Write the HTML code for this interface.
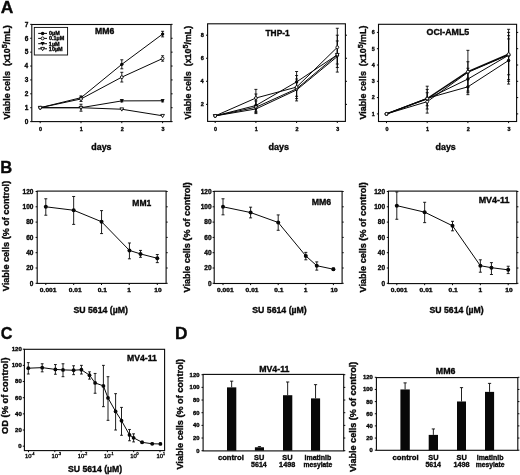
<!DOCTYPE html>
<html><head><meta charset="utf-8"><style>
html,body{margin:0;padding:0;background:#fff;width:520px;height:475px;overflow:hidden;}
svg{display:block;will-change:transform;filter:blur(0.3px);}
text{font-family:"Liberation Sans",sans-serif;fill:#080808;stroke:#080808;stroke-width:0.35px;}
</style></head><body>
<svg width="520" height="475" viewBox="0 0 520 475">
<rect width="520" height="475" fill="#fff"/>
<text x="0.86" y="13.00" font-size="16.8" font-weight="bold" textLength="12.59" lengthAdjust="spacingAndGlyphs">A</text>
<text x="0.19" y="173.10" font-size="16.8" font-weight="bold" textLength="11.96" lengthAdjust="spacingAndGlyphs">B</text>
<text x="0.64" y="339.20" font-size="16.8" font-weight="bold" textLength="11.70" lengthAdjust="spacingAndGlyphs">C</text>
<text x="175.14" y="339.20" font-size="16.8" font-weight="bold" textLength="12.49" lengthAdjust="spacingAndGlyphs">D</text>
<rect x="31.80" y="24.50" width="139.20" height="97.10" fill="none" stroke="#080808" stroke-width="1.1"/>
<line x1="30.20" y1="121.60" x2="31.80" y2="121.60" stroke="#080808" stroke-width="1.0"/>
<line x1="171.00" y1="121.60" x2="172.60" y2="121.60" stroke="#080808" stroke-width="1.0"/>
<text x="24.75" y="123.88" font-size="6.5" font-weight="bold" textLength="3.62" lengthAdjust="spacingAndGlyphs">0</text>
<line x1="30.20" y1="107.71" x2="31.80" y2="107.71" stroke="#080808" stroke-width="1.0"/>
<line x1="171.00" y1="107.71" x2="172.60" y2="107.71" stroke="#080808" stroke-width="1.0"/>
<text x="24.67" y="109.98" font-size="6.5" font-weight="bold" textLength="3.62" lengthAdjust="spacingAndGlyphs">1</text>
<line x1="30.20" y1="93.82" x2="31.80" y2="93.82" stroke="#080808" stroke-width="1.0"/>
<line x1="171.00" y1="93.82" x2="172.60" y2="93.82" stroke="#080808" stroke-width="1.0"/>
<text x="24.75" y="96.09" font-size="6.5" font-weight="bold" textLength="3.62" lengthAdjust="spacingAndGlyphs">2</text>
<line x1="30.20" y1="79.93" x2="31.80" y2="79.93" stroke="#080808" stroke-width="1.0"/>
<line x1="171.00" y1="79.93" x2="172.60" y2="79.93" stroke="#080808" stroke-width="1.0"/>
<text x="24.72" y="82.20" font-size="6.5" font-weight="bold" textLength="3.62" lengthAdjust="spacingAndGlyphs">3</text>
<line x1="30.20" y1="66.04" x2="31.80" y2="66.04" stroke="#080808" stroke-width="1.0"/>
<line x1="171.00" y1="66.04" x2="172.60" y2="66.04" stroke="#080808" stroke-width="1.0"/>
<text x="24.52" y="68.31" font-size="6.5" font-weight="bold" textLength="3.62" lengthAdjust="spacingAndGlyphs">4</text>
<line x1="30.20" y1="52.15" x2="31.80" y2="52.15" stroke="#080808" stroke-width="1.0"/>
<line x1="171.00" y1="52.15" x2="172.60" y2="52.15" stroke="#080808" stroke-width="1.0"/>
<text x="24.67" y="54.42" font-size="6.5" font-weight="bold" textLength="3.62" lengthAdjust="spacingAndGlyphs">5</text>
<line x1="30.20" y1="38.26" x2="31.80" y2="38.26" stroke="#080808" stroke-width="1.0"/>
<line x1="171.00" y1="38.26" x2="172.60" y2="38.26" stroke="#080808" stroke-width="1.0"/>
<text x="24.72" y="40.53" font-size="6.5" font-weight="bold" textLength="3.62" lengthAdjust="spacingAndGlyphs">6</text>
<line x1="30.20" y1="24.37" x2="31.80" y2="24.37" stroke="#080808" stroke-width="1.0"/>
<line x1="171.00" y1="24.37" x2="172.60" y2="24.37" stroke="#080808" stroke-width="1.0"/>
<text x="24.77" y="26.64" font-size="6.5" font-weight="bold" textLength="3.62" lengthAdjust="spacingAndGlyphs">7</text>
<line x1="40.20" y1="121.60" x2="40.20" y2="123.20" stroke="#080808" stroke-width="1.0"/>
<text x="39.10" y="130.50" font-size="5.4" font-weight="bold" textLength="3.00" lengthAdjust="spacingAndGlyphs">0</text>
<line x1="81.00" y1="121.60" x2="81.00" y2="123.20" stroke="#080808" stroke-width="1.0"/>
<text x="79.80" y="130.50" font-size="5.4" font-weight="bold" textLength="3.00" lengthAdjust="spacingAndGlyphs">1</text>
<line x1="121.80" y1="121.60" x2="121.80" y2="123.20" stroke="#080808" stroke-width="1.0"/>
<text x="120.71" y="130.50" font-size="5.4" font-weight="bold" textLength="3.00" lengthAdjust="spacingAndGlyphs">2</text>
<line x1="162.60" y1="121.60" x2="162.60" y2="123.20" stroke="#080808" stroke-width="1.0"/>
<text x="161.53" y="130.50" font-size="5.4" font-weight="bold" textLength="3.00" lengthAdjust="spacingAndGlyphs">3</text>
<text transform="translate(9.60 0) rotate(-90)" x="-119.56" y="0" font-size="9.40" font-weight="bold" textLength="71.37" lengthAdjust="spacingAndGlyphs">Viable cells  (x10</text>
<text transform="translate(6.70 0) rotate(-90)" x="-48.19" y="0" font-size="7.52" font-weight="bold" textLength="3.98" lengthAdjust="spacingAndGlyphs">5</text>
<text transform="translate(9.60 0) rotate(-90)" x="-44.22" y="0" font-size="9.40" font-weight="bold" textLength="18.86" lengthAdjust="spacingAndGlyphs">/mL)</text>
<text x="91.34" y="149.50" font-size="8.8" font-weight="bold" textLength="20.23" lengthAdjust="spacingAndGlyphs">days</text>
<text x="95.02" y="34.40" font-size="8.7" font-weight="bold" textLength="19.30" lengthAdjust="spacingAndGlyphs">MM6</text>
<line x1="81.00" y1="104.24" x2="81.00" y2="111.18" stroke="#080808" stroke-width="0.9"/>
<line x1="79.50" y1="104.24" x2="82.50" y2="104.24" stroke="#080808" stroke-width="0.9"/>
<line x1="79.50" y1="111.18" x2="82.50" y2="111.18" stroke="#080808" stroke-width="0.9"/>
<line x1="81.00" y1="95.90" x2="81.00" y2="101.46" stroke="#080808" stroke-width="0.9"/>
<line x1="79.50" y1="95.90" x2="82.50" y2="95.90" stroke="#080808" stroke-width="0.9"/>
<line x1="79.50" y1="101.46" x2="82.50" y2="101.46" stroke="#080808" stroke-width="0.9"/>
<line x1="121.80" y1="59.79" x2="121.80" y2="68.82" stroke="#080808" stroke-width="0.9"/>
<line x1="120.30" y1="59.79" x2="123.30" y2="59.79" stroke="#080808" stroke-width="0.9"/>
<line x1="120.30" y1="68.82" x2="123.30" y2="68.82" stroke="#080808" stroke-width="0.9"/>
<line x1="121.80" y1="72.29" x2="121.80" y2="82.01" stroke="#080808" stroke-width="0.9"/>
<line x1="120.30" y1="72.29" x2="123.30" y2="72.29" stroke="#080808" stroke-width="0.9"/>
<line x1="120.30" y1="82.01" x2="123.30" y2="82.01" stroke="#080808" stroke-width="0.9"/>
<line x1="162.60" y1="31.31" x2="162.60" y2="36.87" stroke="#080808" stroke-width="0.9"/>
<line x1="161.10" y1="31.31" x2="164.10" y2="31.31" stroke="#080808" stroke-width="0.9"/>
<line x1="161.10" y1="36.87" x2="164.10" y2="36.87" stroke="#080808" stroke-width="0.9"/>
<line x1="162.60" y1="55.76" x2="162.60" y2="61.18" stroke="#080808" stroke-width="0.9"/>
<line x1="161.10" y1="55.76" x2="164.10" y2="55.76" stroke="#080808" stroke-width="0.9"/>
<line x1="161.10" y1="61.18" x2="164.10" y2="61.18" stroke="#080808" stroke-width="0.9"/>
<line x1="121.80" y1="99.65" x2="121.80" y2="101.88" stroke="#080808" stroke-width="0.9"/>
<line x1="120.30" y1="99.65" x2="123.30" y2="99.65" stroke="#080808" stroke-width="0.9"/>
<line x1="120.30" y1="101.88" x2="123.30" y2="101.88" stroke="#080808" stroke-width="0.9"/>
<line x1="162.60" y1="99.65" x2="162.60" y2="101.88" stroke="#080808" stroke-width="0.9"/>
<line x1="161.10" y1="99.65" x2="164.10" y2="99.65" stroke="#080808" stroke-width="0.9"/>
<line x1="161.10" y1="101.88" x2="164.10" y2="101.88" stroke="#080808" stroke-width="0.9"/>
<polyline points="40.20,107.71 81.00,97.71 121.80,64.37 162.60,34.09" fill="none" stroke="#080808" stroke-width="1.0" stroke-linejoin="round"/>
<polyline points="40.20,107.71 81.00,107.71 121.80,100.90 162.60,100.76" fill="none" stroke="#080808" stroke-width="1.0" stroke-linejoin="round"/>
<polyline points="40.20,107.71 81.00,107.71 121.80,109.24 162.60,115.77" fill="none" stroke="#080808" stroke-width="1.0" stroke-linejoin="round"/>
<polyline points="40.20,107.71 81.00,98.96 121.80,77.15 162.60,58.54" fill="none" stroke="#080808" stroke-width="1.0" stroke-linejoin="round"/>
<circle cx="40.20" cy="107.71" r="1.7" fill="#080808"/>
<circle cx="81.00" cy="97.71" r="1.7" fill="#080808"/>
<circle cx="121.80" cy="64.37" r="1.7" fill="#080808"/>
<circle cx="162.60" cy="34.09" r="1.7" fill="#080808"/>
<path d="M38.16,106.18 L42.24,106.18 L40.20,109.75 Z" fill="#080808"/>
<path d="M78.96,106.18 L83.04,106.18 L81.00,109.75 Z" fill="#080808"/>
<path d="M119.76,99.37 L123.84,99.37 L121.80,102.94 Z" fill="#080808"/>
<path d="M160.56,99.23 L164.64,99.23 L162.60,102.80 Z" fill="#080808"/>
<path d="M38.33,106.35 L42.07,106.35 L40.20,109.58 Z" fill="#fff" stroke="#080808" stroke-width="0.9"/>
<path d="M79.13,106.35 L82.87,106.35 L81.00,109.58 Z" fill="#fff" stroke="#080808" stroke-width="0.9"/>
<path d="M119.93,107.88 L123.67,107.88 L121.80,111.11 Z" fill="#fff" stroke="#080808" stroke-width="0.9"/>
<path d="M160.73,114.41 L164.47,114.41 L162.60,117.64 Z" fill="#fff" stroke="#080808" stroke-width="0.9"/>
<circle cx="40.20" cy="107.71" r="1.44" fill="#fff" stroke="#080808" stroke-width="0.9"/>
<circle cx="81.00" cy="98.96" r="1.44" fill="#fff" stroke="#080808" stroke-width="0.9"/>
<circle cx="121.80" cy="77.15" r="1.44" fill="#fff" stroke="#080808" stroke-width="0.9"/>
<circle cx="162.60" cy="58.54" r="1.44" fill="#fff" stroke="#080808" stroke-width="0.9"/>
<rect x="34.30" y="27.40" width="33.30" height="27.60" fill="none" stroke="#080808" stroke-width="0.9"/>
<line x1="38.20" y1="33.40" x2="47.00" y2="33.40" stroke="#080808" stroke-width="1.0"/>
<circle cx="42.60" cy="33.40" r="1.75" fill="#080808"/>
<text x="48.98" y="35.30" font-size="5.2" font-weight="bold" textLength="10.73" lengthAdjust="spacingAndGlyphs">0µM</text>
<line x1="38.20" y1="38.40" x2="47.00" y2="38.40" stroke="#080808" stroke-width="1.0"/>
<circle cx="42.60" cy="38.40" r="1.49" fill="#fff" stroke="#080808" stroke-width="0.9"/>
<text x="48.98" y="40.30" font-size="5.2" font-weight="bold" textLength="15.28" lengthAdjust="spacingAndGlyphs">0.1µM</text>
<line x1="38.20" y1="43.70" x2="47.00" y2="43.70" stroke="#080808" stroke-width="1.0"/>
<path d="M40.50,42.12 L44.70,42.12 L42.60,45.80 Z" fill="#080808"/>
<text x="48.86" y="45.60" font-size="5.2" font-weight="bold" textLength="10.73" lengthAdjust="spacingAndGlyphs">1µM</text>
<line x1="38.20" y1="48.80" x2="47.00" y2="48.80" stroke="#080808" stroke-width="1.0"/>
<path d="M40.68,47.40 L44.52,47.40 L42.60,50.72 Z" fill="#fff" stroke="#080808" stroke-width="0.9"/>
<text x="48.86" y="50.70" font-size="5.2" font-weight="bold" textLength="13.77" lengthAdjust="spacingAndGlyphs">10µM</text>
<rect x="207.60" y="23.80" width="137.80" height="97.60" fill="none" stroke="#080808" stroke-width="1.1"/>
<line x1="206.00" y1="104.37" x2="207.60" y2="104.37" stroke="#080808" stroke-width="1.0"/>
<line x1="345.40" y1="104.37" x2="347.00" y2="104.37" stroke="#080808" stroke-width="1.0"/>
<text x="200.71" y="106.33" font-size="5.6" font-weight="bold" textLength="3.11" lengthAdjust="spacingAndGlyphs">2</text>
<line x1="206.00" y1="81.31" x2="207.60" y2="81.31" stroke="#080808" stroke-width="1.0"/>
<line x1="345.40" y1="81.31" x2="347.00" y2="81.31" stroke="#080808" stroke-width="1.0"/>
<text x="200.51" y="83.27" font-size="5.6" font-weight="bold" textLength="3.11" lengthAdjust="spacingAndGlyphs">4</text>
<line x1="206.00" y1="58.25" x2="207.60" y2="58.25" stroke="#080808" stroke-width="1.0"/>
<line x1="345.40" y1="58.25" x2="347.00" y2="58.25" stroke="#080808" stroke-width="1.0"/>
<text x="200.69" y="60.21" font-size="5.6" font-weight="bold" textLength="3.11" lengthAdjust="spacingAndGlyphs">6</text>
<line x1="206.00" y1="35.19" x2="207.60" y2="35.19" stroke="#080808" stroke-width="1.0"/>
<line x1="345.40" y1="35.19" x2="347.00" y2="35.19" stroke="#080808" stroke-width="1.0"/>
<text x="200.66" y="37.15" font-size="5.6" font-weight="bold" textLength="3.11" lengthAdjust="spacingAndGlyphs">8</text>
<line x1="215.20" y1="121.40" x2="215.20" y2="123.00" stroke="#080808" stroke-width="1.0"/>
<text x="214.10" y="130.50" font-size="5.4" font-weight="bold" textLength="3.00" lengthAdjust="spacingAndGlyphs">0</text>
<line x1="255.90" y1="121.40" x2="255.90" y2="123.00" stroke="#080808" stroke-width="1.0"/>
<text x="254.70" y="130.50" font-size="5.4" font-weight="bold" textLength="3.00" lengthAdjust="spacingAndGlyphs">1</text>
<line x1="296.60" y1="121.40" x2="296.60" y2="123.00" stroke="#080808" stroke-width="1.0"/>
<text x="295.51" y="130.50" font-size="5.4" font-weight="bold" textLength="3.00" lengthAdjust="spacingAndGlyphs">2</text>
<line x1="337.30" y1="121.40" x2="337.30" y2="123.00" stroke="#080808" stroke-width="1.0"/>
<text x="336.23" y="130.50" font-size="5.4" font-weight="bold" textLength="3.00" lengthAdjust="spacingAndGlyphs">3</text>
<text transform="translate(191.00 0) rotate(-90)" x="-119.56" y="0" font-size="9.40" font-weight="bold" textLength="71.07" lengthAdjust="spacingAndGlyphs">Viable cells  (x10</text>
<text transform="translate(188.10 0) rotate(-90)" x="-48.50" y="0" font-size="7.52" font-weight="bold" textLength="3.96" lengthAdjust="spacingAndGlyphs">5</text>
<text transform="translate(191.00 0) rotate(-90)" x="-44.54" y="0" font-size="9.40" font-weight="bold" textLength="18.78" lengthAdjust="spacingAndGlyphs">/mL)</text>
<text x="268.53" y="149.50" font-size="8.8" font-weight="bold" textLength="20.54" lengthAdjust="spacingAndGlyphs">days</text>
<text x="265.51" y="35.80" font-size="8.7" font-weight="bold" textLength="24.13" lengthAdjust="spacingAndGlyphs">THP-1</text>
<line x1="255.90" y1="89.38" x2="255.90" y2="113.59" stroke="#080808" stroke-width="0.9"/>
<line x1="254.40" y1="89.38" x2="257.40" y2="89.38" stroke="#080808" stroke-width="0.9"/>
<line x1="254.40" y1="113.59" x2="257.40" y2="113.59" stroke="#080808" stroke-width="0.9"/>
<line x1="255.90" y1="93.99" x2="255.90" y2="112.44" stroke="#080808" stroke-width="0.9"/>
<line x1="254.40" y1="93.99" x2="257.40" y2="93.99" stroke="#080808" stroke-width="0.9"/>
<line x1="254.40" y1="112.44" x2="257.40" y2="112.44" stroke="#080808" stroke-width="0.9"/>
<line x1="255.90" y1="100.91" x2="255.90" y2="111.29" stroke="#080808" stroke-width="0.9"/>
<line x1="254.40" y1="100.91" x2="257.40" y2="100.91" stroke="#080808" stroke-width="0.9"/>
<line x1="254.40" y1="111.29" x2="257.40" y2="111.29" stroke="#080808" stroke-width="0.9"/>
<line x1="296.60" y1="71.51" x2="296.60" y2="100.91" stroke="#080808" stroke-width="0.9"/>
<line x1="295.10" y1="71.51" x2="298.10" y2="71.51" stroke="#080808" stroke-width="0.9"/>
<line x1="295.10" y1="100.91" x2="298.10" y2="100.91" stroke="#080808" stroke-width="0.9"/>
<line x1="296.60" y1="75.55" x2="296.60" y2="98.61" stroke="#080808" stroke-width="0.9"/>
<line x1="295.10" y1="75.55" x2="298.10" y2="75.55" stroke="#080808" stroke-width="0.9"/>
<line x1="295.10" y1="98.61" x2="298.10" y2="98.61" stroke="#080808" stroke-width="0.9"/>
<line x1="296.60" y1="79.00" x2="296.60" y2="96.30" stroke="#080808" stroke-width="0.9"/>
<line x1="295.10" y1="79.00" x2="298.10" y2="79.00" stroke="#080808" stroke-width="0.9"/>
<line x1="295.10" y1="96.30" x2="298.10" y2="96.30" stroke="#080808" stroke-width="0.9"/>
<line x1="337.30" y1="28.27" x2="337.30" y2="72.09" stroke="#080808" stroke-width="0.9"/>
<line x1="335.80" y1="28.27" x2="338.80" y2="28.27" stroke="#080808" stroke-width="0.9"/>
<line x1="335.80" y1="72.09" x2="338.80" y2="72.09" stroke="#080808" stroke-width="0.9"/>
<line x1="337.30" y1="35.19" x2="337.30" y2="67.47" stroke="#080808" stroke-width="0.9"/>
<line x1="335.80" y1="35.19" x2="338.80" y2="35.19" stroke="#080808" stroke-width="0.9"/>
<line x1="335.80" y1="67.47" x2="338.80" y2="67.47" stroke="#080808" stroke-width="0.9"/>
<line x1="337.30" y1="40.96" x2="337.30" y2="64.02" stroke="#080808" stroke-width="0.9"/>
<line x1="335.80" y1="40.96" x2="338.80" y2="40.96" stroke="#080808" stroke-width="0.9"/>
<line x1="335.80" y1="64.02" x2="338.80" y2="64.02" stroke="#080808" stroke-width="0.9"/>
<polyline points="215.20,115.90 255.90,105.52 296.60,81.89 337.30,54.79" fill="none" stroke="#080808" stroke-width="1.0" stroke-linejoin="round"/>
<polyline points="215.20,115.90 255.90,108.98 296.60,89.96 337.30,56.52" fill="none" stroke="#080808" stroke-width="1.0" stroke-linejoin="round"/>
<polyline points="215.20,115.90 255.90,107.25 296.60,88.80 337.30,54.79" fill="none" stroke="#080808" stroke-width="1.0" stroke-linejoin="round"/>
<polyline points="215.20,115.90 255.90,98.03 296.60,87.08 337.30,47.30" fill="none" stroke="#080808" stroke-width="1.0" stroke-linejoin="round"/>
<circle cx="215.20" cy="115.90" r="1.7" fill="#080808"/>
<circle cx="255.90" cy="105.52" r="1.7" fill="#080808"/>
<circle cx="296.60" cy="81.89" r="1.7" fill="#080808"/>
<circle cx="337.30" cy="54.79" r="1.7" fill="#080808"/>
<path d="M213.16,114.37 L217.24,114.37 L215.20,117.94 Z" fill="#080808"/>
<path d="M253.86,107.45 L257.94,107.45 L255.90,111.02 Z" fill="#080808"/>
<path d="M294.56,88.43 L298.64,88.43 L296.60,92.00 Z" fill="#080808"/>
<path d="M335.26,54.99 L339.34,54.99 L337.30,58.56 Z" fill="#080808"/>
<path d="M213.33,114.54 L217.07,114.54 L215.20,117.77 Z" fill="#fff" stroke="#080808" stroke-width="0.9"/>
<path d="M254.03,105.89 L257.77,105.89 L255.90,109.12 Z" fill="#fff" stroke="#080808" stroke-width="0.9"/>
<path d="M294.73,87.44 L298.47,87.44 L296.60,90.67 Z" fill="#fff" stroke="#080808" stroke-width="0.9"/>
<path d="M335.43,53.43 L339.17,53.43 L337.30,56.66 Z" fill="#fff" stroke="#080808" stroke-width="0.9"/>
<circle cx="215.20" cy="115.90" r="1.44" fill="#fff" stroke="#080808" stroke-width="0.9"/>
<circle cx="255.90" cy="98.03" r="1.44" fill="#fff" stroke="#080808" stroke-width="0.9"/>
<circle cx="296.60" cy="87.08" r="1.44" fill="#fff" stroke="#080808" stroke-width="0.9"/>
<circle cx="337.30" cy="47.30" r="1.44" fill="#fff" stroke="#080808" stroke-width="0.9"/>
<rect x="378.50" y="24.30" width="138.10" height="97.20" fill="none" stroke="#080808" stroke-width="1.1"/>
<line x1="376.90" y1="113.90" x2="378.50" y2="113.90" stroke="#080808" stroke-width="1.0"/>
<line x1="516.60" y1="113.90" x2="518.20" y2="113.90" stroke="#080808" stroke-width="1.0"/>
<text x="371.80" y="115.76" font-size="5.3" font-weight="bold" textLength="2.95" lengthAdjust="spacingAndGlyphs">1</text>
<line x1="376.90" y1="97.60" x2="378.50" y2="97.60" stroke="#080808" stroke-width="1.0"/>
<line x1="516.60" y1="97.60" x2="518.20" y2="97.60" stroke="#080808" stroke-width="1.0"/>
<text x="371.87" y="99.46" font-size="5.3" font-weight="bold" textLength="2.95" lengthAdjust="spacingAndGlyphs">2</text>
<line x1="376.90" y1="81.30" x2="378.50" y2="81.30" stroke="#080808" stroke-width="1.0"/>
<line x1="516.60" y1="81.30" x2="518.20" y2="81.30" stroke="#080808" stroke-width="1.0"/>
<text x="371.84" y="83.16" font-size="5.3" font-weight="bold" textLength="2.95" lengthAdjust="spacingAndGlyphs">3</text>
<line x1="376.90" y1="65.00" x2="378.50" y2="65.00" stroke="#080808" stroke-width="1.0"/>
<line x1="516.60" y1="65.00" x2="518.20" y2="65.00" stroke="#080808" stroke-width="1.0"/>
<text x="371.68" y="66.86" font-size="5.3" font-weight="bold" textLength="2.95" lengthAdjust="spacingAndGlyphs">4</text>
<line x1="376.90" y1="48.70" x2="378.50" y2="48.70" stroke="#080808" stroke-width="1.0"/>
<line x1="516.60" y1="48.70" x2="518.20" y2="48.70" stroke="#080808" stroke-width="1.0"/>
<text x="371.80" y="50.55" font-size="5.3" font-weight="bold" textLength="2.95" lengthAdjust="spacingAndGlyphs">5</text>
<line x1="376.90" y1="32.40" x2="378.50" y2="32.40" stroke="#080808" stroke-width="1.0"/>
<line x1="516.60" y1="32.40" x2="518.20" y2="32.40" stroke="#080808" stroke-width="1.0"/>
<text x="371.84" y="34.26" font-size="5.3" font-weight="bold" textLength="2.95" lengthAdjust="spacingAndGlyphs">6</text>
<line x1="386.50" y1="121.50" x2="386.50" y2="123.10" stroke="#080808" stroke-width="1.0"/>
<text x="385.40" y="130.50" font-size="5.4" font-weight="bold" textLength="3.00" lengthAdjust="spacingAndGlyphs">0</text>
<line x1="427.20" y1="121.50" x2="427.20" y2="123.10" stroke="#080808" stroke-width="1.0"/>
<text x="426.00" y="130.50" font-size="5.4" font-weight="bold" textLength="3.00" lengthAdjust="spacingAndGlyphs">1</text>
<line x1="467.90" y1="121.50" x2="467.90" y2="123.10" stroke="#080808" stroke-width="1.0"/>
<text x="466.81" y="130.50" font-size="5.4" font-weight="bold" textLength="3.00" lengthAdjust="spacingAndGlyphs">2</text>
<line x1="508.60" y1="121.50" x2="508.60" y2="123.10" stroke="#080808" stroke-width="1.0"/>
<text x="507.53" y="130.50" font-size="5.4" font-weight="bold" textLength="3.00" lengthAdjust="spacingAndGlyphs">3</text>
<text transform="translate(365.80 0) rotate(-90)" x="-119.56" y="0" font-size="9.40" font-weight="bold" textLength="71.22" lengthAdjust="spacingAndGlyphs">Viable cells  (x10</text>
<text transform="translate(362.90 0) rotate(-90)" x="-48.34" y="0" font-size="7.52" font-weight="bold" textLength="3.97" lengthAdjust="spacingAndGlyphs">5</text>
<text transform="translate(365.80 0) rotate(-90)" x="-44.38" y="0" font-size="9.40" font-weight="bold" textLength="18.82" lengthAdjust="spacingAndGlyphs">/mL)</text>
<text x="435.54" y="149.50" font-size="8.8" font-weight="bold" textLength="20.23" lengthAdjust="spacingAndGlyphs">days</text>
<text x="426.64" y="34.70" font-size="8.7" font-weight="bold" textLength="42.61" lengthAdjust="spacingAndGlyphs">OCI-AML5</text>
<line x1="427.20" y1="86.19" x2="427.20" y2="113.09" stroke="#080808" stroke-width="0.9"/>
<line x1="425.70" y1="86.19" x2="428.70" y2="86.19" stroke="#080808" stroke-width="0.9"/>
<line x1="425.70" y1="113.09" x2="428.70" y2="113.09" stroke="#080808" stroke-width="0.9"/>
<line x1="427.20" y1="89.45" x2="427.20" y2="109.01" stroke="#080808" stroke-width="0.9"/>
<line x1="425.70" y1="89.45" x2="428.70" y2="89.45" stroke="#080808" stroke-width="0.9"/>
<line x1="425.70" y1="109.01" x2="428.70" y2="109.01" stroke="#080808" stroke-width="0.9"/>
<line x1="427.20" y1="92.71" x2="427.20" y2="105.75" stroke="#080808" stroke-width="0.9"/>
<line x1="425.70" y1="92.71" x2="428.70" y2="92.71" stroke="#080808" stroke-width="0.9"/>
<line x1="425.70" y1="105.75" x2="428.70" y2="105.75" stroke="#080808" stroke-width="0.9"/>
<line x1="467.90" y1="50.33" x2="467.90" y2="94.67" stroke="#080808" stroke-width="0.9"/>
<line x1="466.40" y1="50.33" x2="469.40" y2="50.33" stroke="#080808" stroke-width="0.9"/>
<line x1="466.40" y1="94.67" x2="469.40" y2="94.67" stroke="#080808" stroke-width="0.9"/>
<line x1="467.90" y1="61.74" x2="467.90" y2="91.08" stroke="#080808" stroke-width="0.9"/>
<line x1="466.40" y1="61.74" x2="469.40" y2="61.74" stroke="#080808" stroke-width="0.9"/>
<line x1="466.40" y1="91.08" x2="469.40" y2="91.08" stroke="#080808" stroke-width="0.9"/>
<line x1="467.90" y1="68.26" x2="467.90" y2="92.71" stroke="#080808" stroke-width="0.9"/>
<line x1="466.40" y1="68.26" x2="469.40" y2="68.26" stroke="#080808" stroke-width="0.9"/>
<line x1="466.40" y1="92.71" x2="469.40" y2="92.71" stroke="#080808" stroke-width="0.9"/>
<line x1="508.60" y1="29.30" x2="508.60" y2="84.07" stroke="#080808" stroke-width="0.9"/>
<line x1="507.10" y1="29.30" x2="510.10" y2="29.30" stroke="#080808" stroke-width="0.9"/>
<line x1="507.10" y1="84.07" x2="510.10" y2="84.07" stroke="#080808" stroke-width="0.9"/>
<line x1="508.60" y1="32.40" x2="508.60" y2="79.67" stroke="#080808" stroke-width="0.9"/>
<line x1="507.10" y1="32.40" x2="510.10" y2="32.40" stroke="#080808" stroke-width="0.9"/>
<line x1="507.10" y1="79.67" x2="510.10" y2="79.67" stroke="#080808" stroke-width="0.9"/>
<line x1="508.60" y1="35.66" x2="508.60" y2="74.78" stroke="#080808" stroke-width="0.9"/>
<line x1="507.10" y1="35.66" x2="510.10" y2="35.66" stroke="#080808" stroke-width="0.9"/>
<line x1="507.10" y1="74.78" x2="510.10" y2="74.78" stroke="#080808" stroke-width="0.9"/>
<line x1="508.60" y1="38.92" x2="508.60" y2="81.30" stroke="#080808" stroke-width="0.9"/>
<line x1="507.10" y1="38.92" x2="510.10" y2="38.92" stroke="#080808" stroke-width="0.9"/>
<line x1="507.10" y1="81.30" x2="510.10" y2="81.30" stroke="#080808" stroke-width="0.9"/>
<polyline points="386.50,113.90 427.20,98.90 467.90,79.02 508.60,55.22" fill="none" stroke="#080808" stroke-width="1.0" stroke-linejoin="round"/>
<polyline points="386.50,113.90 427.20,98.25 467.90,86.84 508.60,60.44" fill="none" stroke="#080808" stroke-width="1.0" stroke-linejoin="round"/>
<polyline points="386.50,113.90 427.20,101.68 467.90,72.34 508.60,54.89" fill="none" stroke="#080808" stroke-width="1.0" stroke-linejoin="round"/>
<polyline points="386.50,113.90 427.20,98.58 467.90,71.68 508.60,54.24" fill="none" stroke="#080808" stroke-width="1.4" stroke-linejoin="round"/>
<circle cx="386.50" cy="113.90" r="1.7" fill="#080808"/>
<circle cx="427.20" cy="98.90" r="1.7" fill="#080808"/>
<circle cx="467.90" cy="79.02" r="1.7" fill="#080808"/>
<circle cx="508.60" cy="55.22" r="1.7" fill="#080808"/>
<circle cx="386.50" cy="113.90" r="1.7" fill="#080808"/>
<circle cx="427.20" cy="98.25" r="1.7" fill="#080808"/>
<circle cx="467.90" cy="86.84" r="1.7" fill="#080808"/>
<circle cx="508.60" cy="60.44" r="1.7" fill="#080808"/>
<circle cx="386.50" cy="113.90" r="1.44" fill="#fff" stroke="#080808" stroke-width="0.9"/>
<circle cx="427.20" cy="101.68" r="1.44" fill="#fff" stroke="#080808" stroke-width="0.9"/>
<circle cx="467.90" cy="72.34" r="1.44" fill="#fff" stroke="#080808" stroke-width="0.9"/>
<circle cx="508.60" cy="54.89" r="1.44" fill="#fff" stroke="#080808" stroke-width="0.9"/>
<circle cx="386.50" cy="113.90" r="1.44" fill="#fff" stroke="#080808" stroke-width="0.9"/>
<circle cx="427.20" cy="98.58" r="1.44" fill="#fff" stroke="#080808" stroke-width="0.9"/>
<circle cx="467.90" cy="71.68" r="1.44" fill="#fff" stroke="#080808" stroke-width="0.9"/>
<circle cx="508.60" cy="54.24" r="1.44" fill="#fff" stroke="#080808" stroke-width="0.9"/>
<rect x="37.20" y="191.10" width="128.90" height="92.30" fill="none" stroke="#080808" stroke-width="1.1"/>
<line x1="35.60" y1="283.30" x2="37.20" y2="283.30" stroke="#080808" stroke-width="1.0"/>
<line x1="166.10" y1="283.30" x2="167.70" y2="283.30" stroke="#080808" stroke-width="1.0"/>
<text x="29.85" y="285.60" font-size="6.5" font-weight="bold" textLength="3.62" lengthAdjust="spacingAndGlyphs">0</text>
<line x1="35.60" y1="268.00" x2="37.20" y2="268.00" stroke="#080808" stroke-width="1.0"/>
<line x1="166.10" y1="268.00" x2="167.70" y2="268.00" stroke="#080808" stroke-width="1.0"/>
<text x="26.24" y="270.30" font-size="6.5" font-weight="bold" textLength="7.23" lengthAdjust="spacingAndGlyphs">20</text>
<line x1="35.60" y1="252.70" x2="37.20" y2="252.70" stroke="#080808" stroke-width="1.0"/>
<line x1="166.10" y1="252.70" x2="167.70" y2="252.70" stroke="#080808" stroke-width="1.0"/>
<text x="26.24" y="255.00" font-size="6.5" font-weight="bold" textLength="7.23" lengthAdjust="spacingAndGlyphs">40</text>
<line x1="35.60" y1="237.40" x2="37.20" y2="237.40" stroke="#080808" stroke-width="1.0"/>
<line x1="166.10" y1="237.40" x2="167.70" y2="237.40" stroke="#080808" stroke-width="1.0"/>
<text x="26.24" y="239.70" font-size="6.5" font-weight="bold" textLength="7.23" lengthAdjust="spacingAndGlyphs">60</text>
<line x1="35.60" y1="222.10" x2="37.20" y2="222.10" stroke="#080808" stroke-width="1.0"/>
<line x1="166.10" y1="222.10" x2="167.70" y2="222.10" stroke="#080808" stroke-width="1.0"/>
<text x="26.24" y="224.40" font-size="6.5" font-weight="bold" textLength="7.23" lengthAdjust="spacingAndGlyphs">80</text>
<line x1="35.60" y1="206.80" x2="37.20" y2="206.80" stroke="#080808" stroke-width="1.0"/>
<line x1="166.10" y1="206.80" x2="167.70" y2="206.80" stroke="#080808" stroke-width="1.0"/>
<text x="22.62" y="209.10" font-size="6.5" font-weight="bold" textLength="10.85" lengthAdjust="spacingAndGlyphs">100</text>
<line x1="35.60" y1="191.50" x2="37.20" y2="191.50" stroke="#080808" stroke-width="1.0"/>
<line x1="166.10" y1="191.50" x2="167.70" y2="191.50" stroke="#080808" stroke-width="1.0"/>
<text x="22.62" y="193.80" font-size="6.5" font-weight="bold" textLength="10.85" lengthAdjust="spacingAndGlyphs">120</text>
<line x1="45.80" y1="283.40" x2="45.80" y2="285.00" stroke="#080808" stroke-width="1.0"/>
<text x="39.89" y="292.40" font-size="5.6" font-weight="bold" textLength="16.54" lengthAdjust="spacingAndGlyphs">0.001</text>
<line x1="73.70" y1="283.40" x2="73.70" y2="285.00" stroke="#080808" stroke-width="1.0"/>
<text x="68.73" y="292.40" font-size="5.6" font-weight="bold" textLength="12.86" lengthAdjust="spacingAndGlyphs">0.01</text>
<line x1="101.50" y1="283.40" x2="101.50" y2="285.00" stroke="#080808" stroke-width="1.0"/>
<text x="97.67" y="292.40" font-size="5.6" font-weight="bold" textLength="9.19" lengthAdjust="spacingAndGlyphs">0.1</text>
<line x1="129.20" y1="283.40" x2="129.20" y2="285.00" stroke="#080808" stroke-width="1.0"/>
<text x="127.35" y="292.40" font-size="5.6" font-weight="bold" textLength="3.68" lengthAdjust="spacingAndGlyphs">1</text>
<line x1="157.30" y1="283.40" x2="157.30" y2="285.00" stroke="#080808" stroke-width="1.0"/>
<text x="154.35" y="292.40" font-size="5.6" font-weight="bold" textLength="7.35" lengthAdjust="spacingAndGlyphs">10</text>
<text transform="translate(9.20 0) rotate(-90)" x="-291.16" y="0" font-size="8.8" font-weight="bold" textLength="110.32" lengthAdjust="spacingAndGlyphs">Viable cells (% of control)</text>
<text x="73.45" y="313.00" font-size="8.8" font-weight="bold" textLength="54.49" lengthAdjust="spacingAndGlyphs">SU 5614 (µM)</text>
<text x="132.33" y="206.20" font-size="8.7" font-weight="bold" textLength="18.91" lengthAdjust="spacingAndGlyphs">MM1</text>
<line x1="45.80" y1="198.77" x2="45.80" y2="215.22" stroke="#080808" stroke-width="0.9"/>
<line x1="44.30" y1="198.77" x2="47.30" y2="198.77" stroke="#080808" stroke-width="0.9"/>
<line x1="44.30" y1="215.22" x2="47.30" y2="215.22" stroke="#080808" stroke-width="0.9"/>
<line x1="73.67" y1="196.47" x2="73.67" y2="224.40" stroke="#080808" stroke-width="0.9"/>
<line x1="72.17" y1="196.47" x2="75.17" y2="196.47" stroke="#080808" stroke-width="0.9"/>
<line x1="72.17" y1="224.40" x2="75.17" y2="224.40" stroke="#080808" stroke-width="0.9"/>
<line x1="101.55" y1="210.62" x2="101.55" y2="233.58" stroke="#080808" stroke-width="0.9"/>
<line x1="100.05" y1="210.62" x2="103.05" y2="210.62" stroke="#080808" stroke-width="0.9"/>
<line x1="100.05" y1="233.58" x2="103.05" y2="233.58" stroke="#080808" stroke-width="0.9"/>
<line x1="129.43" y1="242.98" x2="129.43" y2="258.82" stroke="#080808" stroke-width="0.9"/>
<line x1="127.93" y1="242.98" x2="130.93" y2="242.98" stroke="#080808" stroke-width="0.9"/>
<line x1="127.93" y1="258.82" x2="130.93" y2="258.82" stroke="#080808" stroke-width="0.9"/>
<line x1="140.52" y1="250.41" x2="140.52" y2="257.29" stroke="#080808" stroke-width="0.9"/>
<line x1="139.02" y1="250.41" x2="142.02" y2="250.41" stroke="#080808" stroke-width="0.9"/>
<line x1="139.02" y1="257.29" x2="142.02" y2="257.29" stroke="#080808" stroke-width="0.9"/>
<line x1="157.30" y1="254.54" x2="157.30" y2="262.64" stroke="#080808" stroke-width="0.9"/>
<line x1="155.80" y1="254.54" x2="158.80" y2="254.54" stroke="#080808" stroke-width="0.9"/>
<line x1="155.80" y1="262.64" x2="158.80" y2="262.64" stroke="#080808" stroke-width="0.9"/>
<polyline points="45.80,206.80 73.67,210.24 101.55,221.72 129.43,250.41 140.52,253.92 157.30,258.28" fill="none" stroke="#080808" stroke-width="1.0" stroke-linejoin="round"/>
<circle cx="45.80" cy="206.80" r="2.0" fill="#080808"/>
<circle cx="73.67" cy="210.24" r="2.0" fill="#080808"/>
<circle cx="101.55" cy="221.72" r="2.0" fill="#080808"/>
<circle cx="129.43" cy="250.41" r="2.0" fill="#080808"/>
<circle cx="140.52" cy="253.92" r="2.0" fill="#080808"/>
<circle cx="157.30" cy="258.28" r="2.0" fill="#080808"/>
<rect x="214.20" y="191.30" width="127.90" height="92.20" fill="none" stroke="#080808" stroke-width="1.1"/>
<line x1="212.60" y1="283.30" x2="214.20" y2="283.30" stroke="#080808" stroke-width="1.0"/>
<line x1="342.10" y1="283.30" x2="343.70" y2="283.30" stroke="#080808" stroke-width="1.0"/>
<text x="207.95" y="285.60" font-size="6.5" font-weight="bold" textLength="3.62" lengthAdjust="spacingAndGlyphs">0</text>
<line x1="212.60" y1="268.00" x2="214.20" y2="268.00" stroke="#080808" stroke-width="1.0"/>
<line x1="342.10" y1="268.00" x2="343.70" y2="268.00" stroke="#080808" stroke-width="1.0"/>
<text x="204.34" y="270.30" font-size="6.5" font-weight="bold" textLength="7.23" lengthAdjust="spacingAndGlyphs">20</text>
<line x1="212.60" y1="252.70" x2="214.20" y2="252.70" stroke="#080808" stroke-width="1.0"/>
<line x1="342.10" y1="252.70" x2="343.70" y2="252.70" stroke="#080808" stroke-width="1.0"/>
<text x="204.34" y="255.00" font-size="6.5" font-weight="bold" textLength="7.23" lengthAdjust="spacingAndGlyphs">40</text>
<line x1="212.60" y1="237.40" x2="214.20" y2="237.40" stroke="#080808" stroke-width="1.0"/>
<line x1="342.10" y1="237.40" x2="343.70" y2="237.40" stroke="#080808" stroke-width="1.0"/>
<text x="204.34" y="239.70" font-size="6.5" font-weight="bold" textLength="7.23" lengthAdjust="spacingAndGlyphs">60</text>
<line x1="212.60" y1="222.10" x2="214.20" y2="222.10" stroke="#080808" stroke-width="1.0"/>
<line x1="342.10" y1="222.10" x2="343.70" y2="222.10" stroke="#080808" stroke-width="1.0"/>
<text x="204.34" y="224.40" font-size="6.5" font-weight="bold" textLength="7.23" lengthAdjust="spacingAndGlyphs">80</text>
<line x1="212.60" y1="206.80" x2="214.20" y2="206.80" stroke="#080808" stroke-width="1.0"/>
<line x1="342.10" y1="206.80" x2="343.70" y2="206.80" stroke="#080808" stroke-width="1.0"/>
<text x="200.72" y="209.10" font-size="6.5" font-weight="bold" textLength="10.85" lengthAdjust="spacingAndGlyphs">100</text>
<line x1="212.60" y1="191.50" x2="214.20" y2="191.50" stroke="#080808" stroke-width="1.0"/>
<line x1="342.10" y1="191.50" x2="343.70" y2="191.50" stroke="#080808" stroke-width="1.0"/>
<text x="200.72" y="193.80" font-size="6.5" font-weight="bold" textLength="10.85" lengthAdjust="spacingAndGlyphs">120</text>
<line x1="223.00" y1="283.50" x2="223.00" y2="285.10" stroke="#080808" stroke-width="1.0"/>
<text x="217.09" y="292.40" font-size="5.6" font-weight="bold" textLength="16.54" lengthAdjust="spacingAndGlyphs">0.001</text>
<line x1="250.60" y1="283.50" x2="250.60" y2="285.10" stroke="#080808" stroke-width="1.0"/>
<text x="245.63" y="292.40" font-size="5.6" font-weight="bold" textLength="12.86" lengthAdjust="spacingAndGlyphs">0.01</text>
<line x1="278.20" y1="283.50" x2="278.20" y2="285.10" stroke="#080808" stroke-width="1.0"/>
<text x="274.27" y="292.40" font-size="5.6" font-weight="bold" textLength="9.19" lengthAdjust="spacingAndGlyphs">0.1</text>
<line x1="305.80" y1="283.50" x2="305.80" y2="285.10" stroke="#080808" stroke-width="1.0"/>
<text x="303.85" y="292.40" font-size="5.6" font-weight="bold" textLength="3.68" lengthAdjust="spacingAndGlyphs">1</text>
<line x1="333.40" y1="283.50" x2="333.40" y2="285.10" stroke="#080808" stroke-width="1.0"/>
<text x="330.45" y="292.40" font-size="5.6" font-weight="bold" textLength="7.35" lengthAdjust="spacingAndGlyphs">10</text>
<text transform="translate(189.80 0) rotate(-90)" x="-292.46" y="0" font-size="8.8" font-weight="bold" textLength="110.32" lengthAdjust="spacingAndGlyphs">Viable cells (% of control)</text>
<text x="252.25" y="313.00" font-size="8.8" font-weight="bold" textLength="54.49" lengthAdjust="spacingAndGlyphs">SU 5614 (µM)</text>
<text x="311.71" y="204.90" font-size="8.7" font-weight="bold" textLength="19.51" lengthAdjust="spacingAndGlyphs">MM6</text>
<line x1="223.00" y1="198.77" x2="223.00" y2="214.83" stroke="#080808" stroke-width="0.9"/>
<line x1="221.50" y1="198.77" x2="224.50" y2="198.77" stroke="#080808" stroke-width="0.9"/>
<line x1="221.50" y1="214.83" x2="224.50" y2="214.83" stroke="#080808" stroke-width="0.9"/>
<line x1="250.60" y1="207.18" x2="250.60" y2="217.89" stroke="#080808" stroke-width="0.9"/>
<line x1="249.10" y1="207.18" x2="252.10" y2="207.18" stroke="#080808" stroke-width="0.9"/>
<line x1="249.10" y1="217.89" x2="252.10" y2="217.89" stroke="#080808" stroke-width="0.9"/>
<line x1="278.20" y1="214.91" x2="278.20" y2="230.29" stroke="#080808" stroke-width="0.9"/>
<line x1="276.70" y1="214.91" x2="279.70" y2="214.91" stroke="#080808" stroke-width="0.9"/>
<line x1="276.70" y1="230.29" x2="279.70" y2="230.29" stroke="#080808" stroke-width="0.9"/>
<line x1="305.80" y1="252.39" x2="305.80" y2="259.81" stroke="#080808" stroke-width="0.9"/>
<line x1="304.30" y1="252.39" x2="307.30" y2="252.39" stroke="#080808" stroke-width="0.9"/>
<line x1="304.30" y1="259.81" x2="307.30" y2="259.81" stroke="#080808" stroke-width="0.9"/>
<line x1="316.78" y1="261.88" x2="316.78" y2="270.14" stroke="#080808" stroke-width="0.9"/>
<line x1="315.28" y1="261.88" x2="318.28" y2="261.88" stroke="#080808" stroke-width="0.9"/>
<line x1="315.28" y1="270.14" x2="318.28" y2="270.14" stroke="#080808" stroke-width="0.9"/>
<line x1="333.40" y1="268.00" x2="333.40" y2="270.30" stroke="#080808" stroke-width="0.9"/>
<line x1="331.90" y1="268.00" x2="334.90" y2="268.00" stroke="#080808" stroke-width="0.9"/>
<line x1="331.90" y1="270.30" x2="334.90" y2="270.30" stroke="#080808" stroke-width="0.9"/>
<polyline points="223.00,206.80 250.60,212.54 278.20,222.48 305.80,255.91 316.78,265.71 333.40,269.22" fill="none" stroke="#080808" stroke-width="1.0" stroke-linejoin="round"/>
<circle cx="223.00" cy="206.80" r="2.0" fill="#080808"/>
<circle cx="250.60" cy="212.54" r="2.0" fill="#080808"/>
<circle cx="278.20" cy="222.48" r="2.0" fill="#080808"/>
<circle cx="305.80" cy="255.91" r="2.0" fill="#080808"/>
<circle cx="316.78" cy="265.71" r="2.0" fill="#080808"/>
<circle cx="333.40" cy="269.22" r="2.0" fill="#080808"/>
<rect x="388.40" y="191.10" width="128.40" height="92.50" fill="none" stroke="#080808" stroke-width="1.1"/>
<line x1="386.80" y1="283.30" x2="388.40" y2="283.30" stroke="#080808" stroke-width="1.0"/>
<line x1="516.80" y1="283.30" x2="518.40" y2="283.30" stroke="#080808" stroke-width="1.0"/>
<text x="381.45" y="285.60" font-size="6.5" font-weight="bold" textLength="3.62" lengthAdjust="spacingAndGlyphs">0</text>
<line x1="386.80" y1="268.00" x2="388.40" y2="268.00" stroke="#080808" stroke-width="1.0"/>
<line x1="516.80" y1="268.00" x2="518.40" y2="268.00" stroke="#080808" stroke-width="1.0"/>
<text x="377.84" y="270.30" font-size="6.5" font-weight="bold" textLength="7.23" lengthAdjust="spacingAndGlyphs">20</text>
<line x1="386.80" y1="252.70" x2="388.40" y2="252.70" stroke="#080808" stroke-width="1.0"/>
<line x1="516.80" y1="252.70" x2="518.40" y2="252.70" stroke="#080808" stroke-width="1.0"/>
<text x="377.84" y="255.00" font-size="6.5" font-weight="bold" textLength="7.23" lengthAdjust="spacingAndGlyphs">40</text>
<line x1="386.80" y1="237.40" x2="388.40" y2="237.40" stroke="#080808" stroke-width="1.0"/>
<line x1="516.80" y1="237.40" x2="518.40" y2="237.40" stroke="#080808" stroke-width="1.0"/>
<text x="377.84" y="239.70" font-size="6.5" font-weight="bold" textLength="7.23" lengthAdjust="spacingAndGlyphs">60</text>
<line x1="386.80" y1="222.10" x2="388.40" y2="222.10" stroke="#080808" stroke-width="1.0"/>
<line x1="516.80" y1="222.10" x2="518.40" y2="222.10" stroke="#080808" stroke-width="1.0"/>
<text x="377.84" y="224.40" font-size="6.5" font-weight="bold" textLength="7.23" lengthAdjust="spacingAndGlyphs">80</text>
<line x1="386.80" y1="206.80" x2="388.40" y2="206.80" stroke="#080808" stroke-width="1.0"/>
<line x1="516.80" y1="206.80" x2="518.40" y2="206.80" stroke="#080808" stroke-width="1.0"/>
<text x="374.22" y="209.10" font-size="6.5" font-weight="bold" textLength="10.85" lengthAdjust="spacingAndGlyphs">100</text>
<line x1="386.80" y1="191.50" x2="388.40" y2="191.50" stroke="#080808" stroke-width="1.0"/>
<line x1="516.80" y1="191.50" x2="518.40" y2="191.50" stroke="#080808" stroke-width="1.0"/>
<text x="374.22" y="193.80" font-size="6.5" font-weight="bold" textLength="10.85" lengthAdjust="spacingAndGlyphs">120</text>
<line x1="396.80" y1="283.60" x2="396.80" y2="285.20" stroke="#080808" stroke-width="1.0"/>
<text x="390.89" y="292.40" font-size="5.6" font-weight="bold" textLength="16.54" lengthAdjust="spacingAndGlyphs">0.001</text>
<line x1="424.65" y1="283.60" x2="424.65" y2="285.20" stroke="#080808" stroke-width="1.0"/>
<text x="419.63" y="292.40" font-size="5.6" font-weight="bold" textLength="12.86" lengthAdjust="spacingAndGlyphs">0.01</text>
<line x1="452.50" y1="283.60" x2="452.50" y2="285.20" stroke="#080808" stroke-width="1.0"/>
<text x="448.57" y="292.40" font-size="5.6" font-weight="bold" textLength="9.19" lengthAdjust="spacingAndGlyphs">0.1</text>
<line x1="480.35" y1="283.60" x2="480.35" y2="285.20" stroke="#080808" stroke-width="1.0"/>
<text x="478.40" y="292.40" font-size="5.6" font-weight="bold" textLength="3.68" lengthAdjust="spacingAndGlyphs">1</text>
<line x1="508.20" y1="283.60" x2="508.20" y2="285.20" stroke="#080808" stroke-width="1.0"/>
<text x="505.25" y="292.40" font-size="5.6" font-weight="bold" textLength="7.35" lengthAdjust="spacingAndGlyphs">10</text>
<text transform="translate(365.50 0) rotate(-90)" x="-292.46" y="0" font-size="8.8" font-weight="bold" textLength="110.32" lengthAdjust="spacingAndGlyphs">Viable cells (% of control)</text>
<text x="429.55" y="313.00" font-size="8.8" font-weight="bold" textLength="54.18" lengthAdjust="spacingAndGlyphs">SU 5614 (µM)</text>
<text x="478.70" y="203.10" font-size="8.7" font-weight="bold" textLength="30.75" lengthAdjust="spacingAndGlyphs">MV4-11</text>
<line x1="396.80" y1="191.96" x2="396.80" y2="219.27" stroke="#080808" stroke-width="0.9"/>
<line x1="395.30" y1="191.96" x2="398.30" y2="191.96" stroke="#080808" stroke-width="0.9"/>
<line x1="395.30" y1="219.27" x2="398.30" y2="219.27" stroke="#080808" stroke-width="0.9"/>
<line x1="424.65" y1="202.29" x2="424.65" y2="222.64" stroke="#080808" stroke-width="0.9"/>
<line x1="423.15" y1="202.29" x2="426.15" y2="202.29" stroke="#080808" stroke-width="0.9"/>
<line x1="423.15" y1="222.64" x2="426.15" y2="222.64" stroke="#080808" stroke-width="0.9"/>
<line x1="452.50" y1="221.34" x2="452.50" y2="230.82" stroke="#080808" stroke-width="0.9"/>
<line x1="451.00" y1="221.34" x2="454.00" y2="221.34" stroke="#080808" stroke-width="0.9"/>
<line x1="451.00" y1="230.82" x2="454.00" y2="230.82" stroke="#080808" stroke-width="0.9"/>
<line x1="480.35" y1="259.81" x2="480.35" y2="272.21" stroke="#080808" stroke-width="0.9"/>
<line x1="478.85" y1="259.81" x2="481.85" y2="259.81" stroke="#080808" stroke-width="0.9"/>
<line x1="478.85" y1="272.21" x2="481.85" y2="272.21" stroke="#080808" stroke-width="0.9"/>
<line x1="491.43" y1="262.64" x2="491.43" y2="274.50" stroke="#080808" stroke-width="0.9"/>
<line x1="489.93" y1="262.64" x2="492.93" y2="262.64" stroke="#080808" stroke-width="0.9"/>
<line x1="489.93" y1="274.50" x2="492.93" y2="274.50" stroke="#080808" stroke-width="0.9"/>
<line x1="508.20" y1="266.24" x2="508.20" y2="273.58" stroke="#080808" stroke-width="0.9"/>
<line x1="506.70" y1="266.24" x2="509.70" y2="266.24" stroke="#080808" stroke-width="0.9"/>
<line x1="506.70" y1="273.58" x2="509.70" y2="273.58" stroke="#080808" stroke-width="0.9"/>
<polyline points="396.80,205.65 424.65,212.16 452.50,225.77 480.35,265.71 491.43,267.69 508.20,269.84" fill="none" stroke="#080808" stroke-width="1.0" stroke-linejoin="round"/>
<circle cx="396.80" cy="205.65" r="2.0" fill="#080808"/>
<circle cx="424.65" cy="212.16" r="2.0" fill="#080808"/>
<circle cx="452.50" cy="225.77" r="2.0" fill="#080808"/>
<circle cx="480.35" cy="265.71" r="2.0" fill="#080808"/>
<circle cx="491.43" cy="267.69" r="2.0" fill="#080808"/>
<circle cx="508.20" cy="269.84" r="2.0" fill="#080808"/>
<rect x="24.40" y="349.30" width="140.20" height="101.30" fill="none" stroke="#080808" stroke-width="1.1"/>
<line x1="22.80" y1="446.20" x2="24.40" y2="446.20" stroke="#080808" stroke-width="1.0"/>
<text x="18.39" y="448.10" font-size="5.4" font-weight="bold" textLength="3.36" lengthAdjust="spacingAndGlyphs">0</text>
<line x1="22.80" y1="430.03" x2="24.40" y2="430.03" stroke="#080808" stroke-width="1.0"/>
<text x="15.02" y="431.93" font-size="5.4" font-weight="bold" textLength="6.73" lengthAdjust="spacingAndGlyphs">20</text>
<line x1="22.80" y1="413.87" x2="24.40" y2="413.87" stroke="#080808" stroke-width="1.0"/>
<text x="15.02" y="415.77" font-size="5.4" font-weight="bold" textLength="6.73" lengthAdjust="spacingAndGlyphs">40</text>
<line x1="22.80" y1="397.70" x2="24.40" y2="397.70" stroke="#080808" stroke-width="1.0"/>
<text x="15.02" y="399.60" font-size="5.4" font-weight="bold" textLength="6.73" lengthAdjust="spacingAndGlyphs">60</text>
<line x1="22.80" y1="381.54" x2="24.40" y2="381.54" stroke="#080808" stroke-width="1.0"/>
<text x="15.02" y="383.44" font-size="5.4" font-weight="bold" textLength="6.73" lengthAdjust="spacingAndGlyphs">80</text>
<line x1="22.80" y1="365.37" x2="24.40" y2="365.37" stroke="#080808" stroke-width="1.0"/>
<text x="11.66" y="367.27" font-size="5.4" font-weight="bold" textLength="10.09" lengthAdjust="spacingAndGlyphs">100</text>
<line x1="22.80" y1="349.20" x2="24.40" y2="349.20" stroke="#080808" stroke-width="1.0"/>
<text x="11.66" y="351.10" font-size="5.4" font-weight="bold" textLength="10.09" lengthAdjust="spacingAndGlyphs">120</text>
<line x1="28.50" y1="450.60" x2="28.50" y2="452.20" stroke="#080808" stroke-width="1.0"/>
<text x="25.12" y="458.00" font-size="5.6" font-weight="normal" textLength="6.54" lengthAdjust="spacingAndGlyphs">10</text>
<text x="31.40" y="455.4" font-size="3.6" font-weight="normal">-4</text>
<line x1="54.80" y1="450.60" x2="54.80" y2="452.20" stroke="#080808" stroke-width="1.0"/>
<text x="51.42" y="458.00" font-size="5.6" font-weight="normal" textLength="6.54" lengthAdjust="spacingAndGlyphs">10</text>
<text x="57.70" y="455.4" font-size="3.6" font-weight="normal">-3</text>
<line x1="81.10" y1="450.60" x2="81.10" y2="452.20" stroke="#080808" stroke-width="1.0"/>
<text x="77.72" y="458.00" font-size="5.6" font-weight="normal" textLength="6.54" lengthAdjust="spacingAndGlyphs">10</text>
<text x="84.00" y="455.4" font-size="3.6" font-weight="normal">-2</text>
<line x1="107.40" y1="450.60" x2="107.40" y2="452.20" stroke="#080808" stroke-width="1.0"/>
<text x="104.02" y="458.00" font-size="5.6" font-weight="normal" textLength="6.54" lengthAdjust="spacingAndGlyphs">10</text>
<text x="110.30" y="455.4" font-size="3.6" font-weight="normal">-1</text>
<line x1="133.70" y1="450.60" x2="133.70" y2="452.20" stroke="#080808" stroke-width="1.0"/>
<text x="130.32" y="458.00" font-size="5.6" font-weight="normal" textLength="6.54" lengthAdjust="spacingAndGlyphs">10</text>
<text x="136.60" y="455.4" font-size="3.6" font-weight="normal">0</text>
<line x1="160.00" y1="450.60" x2="160.00" y2="452.20" stroke="#080808" stroke-width="1.0"/>
<text x="156.62" y="458.00" font-size="5.6" font-weight="normal" textLength="6.54" lengthAdjust="spacingAndGlyphs">10</text>
<text x="162.90" y="455.4" font-size="3.6" font-weight="normal">1</text>
<text transform="translate(7.70 0) rotate(-90)" x="-433.98" y="0" font-size="8.8" font-weight="bold" textLength="76.45" lengthAdjust="spacingAndGlyphs">OD (% of control)</text>
<text x="68.03" y="471.90" font-size="8.8" font-weight="bold" textLength="54.13" lengthAdjust="spacingAndGlyphs">SU 5614 (µM)</text>
<text x="127.02" y="361.40" font-size="8.7" font-weight="bold" textLength="29.82" lengthAdjust="spacingAndGlyphs">MV4-11</text>
<line x1="28.30" y1="362.62" x2="28.30" y2="374.02" stroke="#080808" stroke-width="0.9"/>
<line x1="26.90" y1="362.62" x2="29.70" y2="362.62" stroke="#080808" stroke-width="0.9"/>
<line x1="26.90" y1="374.02" x2="29.70" y2="374.02" stroke="#080808" stroke-width="0.9"/>
<line x1="42.20" y1="363.75" x2="42.20" y2="371.84" stroke="#080808" stroke-width="0.9"/>
<line x1="40.80" y1="363.75" x2="43.60" y2="363.75" stroke="#080808" stroke-width="0.9"/>
<line x1="40.80" y1="371.84" x2="43.60" y2="371.84" stroke="#080808" stroke-width="0.9"/>
<line x1="55.40" y1="364.56" x2="55.40" y2="374.26" stroke="#080808" stroke-width="0.9"/>
<line x1="54.00" y1="364.56" x2="56.80" y2="364.56" stroke="#080808" stroke-width="0.9"/>
<line x1="54.00" y1="374.26" x2="56.80" y2="374.26" stroke="#080808" stroke-width="0.9"/>
<line x1="63.00" y1="363.75" x2="63.00" y2="376.69" stroke="#080808" stroke-width="0.9"/>
<line x1="61.60" y1="363.75" x2="64.40" y2="363.75" stroke="#080808" stroke-width="0.9"/>
<line x1="61.60" y1="376.69" x2="64.40" y2="376.69" stroke="#080808" stroke-width="0.9"/>
<line x1="73.60" y1="365.77" x2="73.60" y2="374.67" stroke="#080808" stroke-width="0.9"/>
<line x1="72.20" y1="365.77" x2="75.00" y2="365.77" stroke="#080808" stroke-width="0.9"/>
<line x1="72.20" y1="374.67" x2="75.00" y2="374.67" stroke="#080808" stroke-width="0.9"/>
<line x1="81.40" y1="365.37" x2="81.40" y2="374.02" stroke="#080808" stroke-width="0.9"/>
<line x1="80.00" y1="365.37" x2="82.80" y2="365.37" stroke="#080808" stroke-width="0.9"/>
<line x1="80.00" y1="374.02" x2="82.80" y2="374.02" stroke="#080808" stroke-width="0.9"/>
<line x1="89.50" y1="371.84" x2="89.50" y2="379.11" stroke="#080808" stroke-width="0.9"/>
<line x1="88.10" y1="371.84" x2="90.90" y2="371.84" stroke="#080808" stroke-width="0.9"/>
<line x1="88.10" y1="379.11" x2="90.90" y2="379.11" stroke="#080808" stroke-width="0.9"/>
<line x1="95.10" y1="373.45" x2="95.10" y2="393.26" stroke="#080808" stroke-width="0.9"/>
<line x1="93.70" y1="373.45" x2="96.50" y2="373.45" stroke="#080808" stroke-width="0.9"/>
<line x1="93.70" y1="393.26" x2="96.50" y2="393.26" stroke="#080808" stroke-width="0.9"/>
<line x1="103.40" y1="365.37" x2="103.40" y2="406.67" stroke="#080808" stroke-width="0.9"/>
<line x1="102.00" y1="365.37" x2="104.80" y2="365.37" stroke="#080808" stroke-width="0.9"/>
<line x1="102.00" y1="406.67" x2="104.80" y2="406.67" stroke="#080808" stroke-width="0.9"/>
<line x1="108.00" y1="376.69" x2="108.00" y2="420.33" stroke="#080808" stroke-width="0.9"/>
<line x1="106.60" y1="376.69" x2="109.40" y2="376.69" stroke="#080808" stroke-width="0.9"/>
<line x1="106.60" y1="420.33" x2="109.40" y2="420.33" stroke="#080808" stroke-width="0.9"/>
<line x1="115.60" y1="393.66" x2="115.60" y2="430.03" stroke="#080808" stroke-width="0.9"/>
<line x1="114.20" y1="393.66" x2="117.00" y2="393.66" stroke="#080808" stroke-width="0.9"/>
<line x1="114.20" y1="430.03" x2="117.00" y2="430.03" stroke="#080808" stroke-width="0.9"/>
<line x1="121.50" y1="407.40" x2="121.50" y2="435.29" stroke="#080808" stroke-width="0.9"/>
<line x1="120.10" y1="407.40" x2="122.90" y2="407.40" stroke="#080808" stroke-width="0.9"/>
<line x1="120.10" y1="435.29" x2="122.90" y2="435.29" stroke="#080808" stroke-width="0.9"/>
<line x1="129.50" y1="429.47" x2="129.50" y2="440.78" stroke="#080808" stroke-width="0.9"/>
<line x1="128.10" y1="429.47" x2="130.90" y2="429.47" stroke="#080808" stroke-width="0.9"/>
<line x1="128.10" y1="440.78" x2="130.90" y2="440.78" stroke="#080808" stroke-width="0.9"/>
<line x1="133.60" y1="433.83" x2="133.60" y2="441.92" stroke="#080808" stroke-width="0.9"/>
<line x1="132.20" y1="433.83" x2="135.00" y2="433.83" stroke="#080808" stroke-width="0.9"/>
<line x1="132.20" y1="441.92" x2="135.00" y2="441.92" stroke="#080808" stroke-width="0.9"/>
<line x1="142.10" y1="441.19" x2="142.10" y2="443.29" stroke="#080808" stroke-width="0.9"/>
<line x1="140.70" y1="441.19" x2="143.50" y2="441.19" stroke="#080808" stroke-width="0.9"/>
<line x1="140.70" y1="443.29" x2="143.50" y2="443.29" stroke="#080808" stroke-width="0.9"/>
<line x1="152.20" y1="442.97" x2="152.20" y2="444.42" stroke="#080808" stroke-width="0.9"/>
<line x1="150.80" y1="442.97" x2="153.60" y2="442.97" stroke="#080808" stroke-width="0.9"/>
<line x1="150.80" y1="444.42" x2="153.60" y2="444.42" stroke="#080808" stroke-width="0.9"/>
<line x1="160.40" y1="443.13" x2="160.40" y2="444.58" stroke="#080808" stroke-width="0.9"/>
<line x1="159.00" y1="443.13" x2="161.80" y2="443.13" stroke="#080808" stroke-width="0.9"/>
<line x1="159.00" y1="444.58" x2="161.80" y2="444.58" stroke="#080808" stroke-width="0.9"/>
<polyline points="28.30,368.20 42.20,367.63 55.40,369.41 63.00,369.90 73.60,370.22 81.40,369.73 89.50,375.23 95.10,382.91 103.40,385.90 108.00,397.94 115.60,411.44 121.50,420.66 129.50,434.88 133.60,437.79 142.10,442.32 152.20,443.78 160.40,443.94" fill="none" stroke="#080808" stroke-width="1.0" stroke-linejoin="round"/>
<circle cx="28.30" cy="368.20" r="1.9" fill="#080808"/>
<circle cx="42.20" cy="367.63" r="1.9" fill="#080808"/>
<circle cx="55.40" cy="369.41" r="1.9" fill="#080808"/>
<circle cx="63.00" cy="369.90" r="1.9" fill="#080808"/>
<circle cx="73.60" cy="370.22" r="1.9" fill="#080808"/>
<circle cx="81.40" cy="369.73" r="1.9" fill="#080808"/>
<circle cx="89.50" cy="375.23" r="1.9" fill="#080808"/>
<circle cx="95.10" cy="382.91" r="1.9" fill="#080808"/>
<circle cx="103.40" cy="385.90" r="1.9" fill="#080808"/>
<circle cx="108.00" cy="397.94" r="1.9" fill="#080808"/>
<circle cx="115.60" cy="411.44" r="1.9" fill="#080808"/>
<circle cx="121.50" cy="420.66" r="1.9" fill="#080808"/>
<circle cx="129.50" cy="434.88" r="1.9" fill="#080808"/>
<circle cx="133.60" cy="437.79" r="1.9" fill="#080808"/>
<circle cx="142.10" cy="442.32" r="1.9" fill="#080808"/>
<circle cx="152.20" cy="443.78" r="1.9" fill="#080808"/>
<circle cx="160.40" cy="443.94" r="1.9" fill="#080808"/>
<rect x="203.10" y="374.40" width="140.60" height="76.50" fill="none" stroke="#080808" stroke-width="1.1"/>
<line x1="201.50" y1="450.70" x2="203.10" y2="450.70" stroke="#080808" stroke-width="1.0"/>
<line x1="343.70" y1="450.70" x2="345.30" y2="450.70" stroke="#080808" stroke-width="1.0"/>
<text x="196.17" y="452.70" font-size="5.6" font-weight="bold" textLength="3.27" lengthAdjust="spacingAndGlyphs">0</text>
<line x1="201.50" y1="438.03" x2="203.10" y2="438.03" stroke="#080808" stroke-width="1.0"/>
<line x1="343.70" y1="438.03" x2="345.30" y2="438.03" stroke="#080808" stroke-width="1.0"/>
<text x="192.90" y="440.03" font-size="5.6" font-weight="bold" textLength="6.54" lengthAdjust="spacingAndGlyphs">20</text>
<line x1="201.50" y1="425.37" x2="203.10" y2="425.37" stroke="#080808" stroke-width="1.0"/>
<line x1="343.70" y1="425.37" x2="345.30" y2="425.37" stroke="#080808" stroke-width="1.0"/>
<text x="192.90" y="427.37" font-size="5.6" font-weight="bold" textLength="6.54" lengthAdjust="spacingAndGlyphs">40</text>
<line x1="201.50" y1="412.70" x2="203.10" y2="412.70" stroke="#080808" stroke-width="1.0"/>
<line x1="343.70" y1="412.70" x2="345.30" y2="412.70" stroke="#080808" stroke-width="1.0"/>
<text x="192.90" y="414.70" font-size="5.6" font-weight="bold" textLength="6.54" lengthAdjust="spacingAndGlyphs">60</text>
<line x1="201.50" y1="400.04" x2="203.10" y2="400.04" stroke="#080808" stroke-width="1.0"/>
<line x1="343.70" y1="400.04" x2="345.30" y2="400.04" stroke="#080808" stroke-width="1.0"/>
<text x="192.90" y="402.04" font-size="5.6" font-weight="bold" textLength="6.54" lengthAdjust="spacingAndGlyphs">80</text>
<line x1="201.50" y1="387.37" x2="203.10" y2="387.37" stroke="#080808" stroke-width="1.0"/>
<line x1="343.70" y1="387.37" x2="345.30" y2="387.37" stroke="#080808" stroke-width="1.0"/>
<text x="189.63" y="389.37" font-size="5.6" font-weight="bold" textLength="9.81" lengthAdjust="spacingAndGlyphs">100</text>
<line x1="201.50" y1="374.70" x2="203.10" y2="374.70" stroke="#080808" stroke-width="1.0"/>
<line x1="343.70" y1="374.70" x2="345.30" y2="374.70" stroke="#080808" stroke-width="1.0"/>
<text x="189.63" y="376.70" font-size="5.6" font-weight="bold" textLength="9.81" lengthAdjust="spacingAndGlyphs">120</text>
<text x="259.21" y="371.50" font-size="8.7" font-weight="bold" textLength="30.24" lengthAdjust="spacingAndGlyphs">MV4-11</text>
<rect x="227.00" y="387.37" width="9.30" height="63.33" fill="#080808"/>
<line x1="231.65" y1="381.16" x2="231.65" y2="387.37" stroke="#080808" stroke-width="0.9"/>
<line x1="230.05" y1="381.16" x2="233.25" y2="381.16" stroke="#080808" stroke-width="0.9"/>
<rect x="254.90" y="447.28" width="9.10" height="3.42" fill="#080808"/>
<line x1="259.45" y1="446.58" x2="259.45" y2="447.28" stroke="#080808" stroke-width="0.9"/>
<line x1="257.85" y1="446.58" x2="261.05" y2="446.58" stroke="#080808" stroke-width="0.9"/>
<rect x="283.00" y="395.22" width="9.30" height="55.48" fill="#080808"/>
<line x1="287.65" y1="381.99" x2="287.65" y2="395.22" stroke="#080808" stroke-width="0.9"/>
<line x1="286.05" y1="381.99" x2="289.25" y2="381.99" stroke="#080808" stroke-width="0.9"/>
<rect x="311.00" y="398.39" width="9.10" height="52.31" fill="#080808"/>
<line x1="315.55" y1="384.65" x2="315.55" y2="398.39" stroke="#080808" stroke-width="0.9"/>
<line x1="313.95" y1="384.65" x2="317.15" y2="384.65" stroke="#080808" stroke-width="0.9"/>
<text transform="translate(182.60 0) rotate(-90)" x="-469.56" y="0" font-size="8.8" font-weight="bold" textLength="110.62" lengthAdjust="spacingAndGlyphs">Viable cells (% of control)</text>
<text x="217.90" y="460.30" font-size="7.2" font-weight="bold" textLength="26.04" lengthAdjust="spacingAndGlyphs">control</text>
<text x="253.99" y="460.30" font-size="7.2" font-weight="bold" textLength="10.27" lengthAdjust="spacingAndGlyphs">SU</text>
<text x="251.08" y="467.20" font-size="7.2" font-weight="bold" textLength="15.66" lengthAdjust="spacingAndGlyphs">5614</text>
<text x="282.29" y="460.30" font-size="7.2" font-weight="bold" textLength="10.27" lengthAdjust="spacingAndGlyphs">SU</text>
<text x="279.14" y="467.20" font-size="7.2" font-weight="bold" textLength="16.08" lengthAdjust="spacingAndGlyphs">1498</text>
<text x="304.51" y="460.20" font-size="7.2" font-weight="bold" textLength="26.77" lengthAdjust="spacingAndGlyphs">imatinib</text>
<text x="303.45" y="466.80" font-size="7.2" font-weight="bold" textLength="28.87" lengthAdjust="spacingAndGlyphs">mesylate</text>
<rect x="376.40" y="377.60" width="141.40" height="72.70" fill="none" stroke="#080808" stroke-width="1.1"/>
<line x1="374.80" y1="450.20" x2="376.40" y2="450.20" stroke="#080808" stroke-width="1.0"/>
<line x1="517.80" y1="450.20" x2="519.40" y2="450.20" stroke="#080808" stroke-width="1.0"/>
<text x="369.47" y="452.20" font-size="5.6" font-weight="bold" textLength="3.27" lengthAdjust="spacingAndGlyphs">0</text>
<line x1="374.80" y1="438.05" x2="376.40" y2="438.05" stroke="#080808" stroke-width="1.0"/>
<line x1="517.80" y1="438.05" x2="519.40" y2="438.05" stroke="#080808" stroke-width="1.0"/>
<text x="366.20" y="440.05" font-size="5.6" font-weight="bold" textLength="6.54" lengthAdjust="spacingAndGlyphs">20</text>
<line x1="374.80" y1="425.90" x2="376.40" y2="425.90" stroke="#080808" stroke-width="1.0"/>
<line x1="517.80" y1="425.90" x2="519.40" y2="425.90" stroke="#080808" stroke-width="1.0"/>
<text x="366.20" y="427.90" font-size="5.6" font-weight="bold" textLength="6.54" lengthAdjust="spacingAndGlyphs">40</text>
<line x1="374.80" y1="413.75" x2="376.40" y2="413.75" stroke="#080808" stroke-width="1.0"/>
<line x1="517.80" y1="413.75" x2="519.40" y2="413.75" stroke="#080808" stroke-width="1.0"/>
<text x="366.20" y="415.75" font-size="5.6" font-weight="bold" textLength="6.54" lengthAdjust="spacingAndGlyphs">60</text>
<line x1="374.80" y1="401.60" x2="376.40" y2="401.60" stroke="#080808" stroke-width="1.0"/>
<line x1="517.80" y1="401.60" x2="519.40" y2="401.60" stroke="#080808" stroke-width="1.0"/>
<text x="366.20" y="403.60" font-size="5.6" font-weight="bold" textLength="6.54" lengthAdjust="spacingAndGlyphs">80</text>
<line x1="374.80" y1="389.45" x2="376.40" y2="389.45" stroke="#080808" stroke-width="1.0"/>
<line x1="517.80" y1="389.45" x2="519.40" y2="389.45" stroke="#080808" stroke-width="1.0"/>
<text x="362.93" y="391.45" font-size="5.6" font-weight="bold" textLength="9.81" lengthAdjust="spacingAndGlyphs">100</text>
<line x1="374.80" y1="377.30" x2="376.40" y2="377.30" stroke="#080808" stroke-width="1.0"/>
<line x1="517.80" y1="377.30" x2="519.40" y2="377.30" stroke="#080808" stroke-width="1.0"/>
<text x="362.93" y="379.30" font-size="5.6" font-weight="bold" textLength="9.81" lengthAdjust="spacingAndGlyphs">120</text>
<text x="435.81" y="374.30" font-size="8.7" font-weight="bold" textLength="19.61" lengthAdjust="spacingAndGlyphs">MM6</text>
<rect x="400.40" y="389.45" width="9.40" height="60.75" fill="#080808"/>
<line x1="405.10" y1="382.89" x2="405.10" y2="389.45" stroke="#080808" stroke-width="0.9"/>
<line x1="403.50" y1="382.89" x2="406.70" y2="382.89" stroke="#080808" stroke-width="0.9"/>
<rect x="428.70" y="434.89" width="9.30" height="15.31" fill="#080808"/>
<line x1="433.35" y1="428.94" x2="433.35" y2="434.89" stroke="#080808" stroke-width="0.9"/>
<line x1="431.75" y1="428.94" x2="434.95" y2="428.94" stroke="#080808" stroke-width="0.9"/>
<rect x="457.00" y="401.48" width="9.00" height="48.72" fill="#080808"/>
<line x1="461.50" y1="387.63" x2="461.50" y2="401.48" stroke="#080808" stroke-width="0.9"/>
<line x1="459.90" y1="387.63" x2="463.10" y2="387.63" stroke="#080808" stroke-width="0.9"/>
<rect x="485.00" y="391.88" width="9.10" height="58.32" fill="#080808"/>
<line x1="489.55" y1="383.38" x2="489.55" y2="391.88" stroke="#080808" stroke-width="0.9"/>
<line x1="487.95" y1="383.38" x2="491.15" y2="383.38" stroke="#080808" stroke-width="0.9"/>
<text transform="translate(356.30 0) rotate(-90)" x="-472.06" y="0" font-size="8.8" font-weight="bold" textLength="110.42" lengthAdjust="spacingAndGlyphs">Viable cells (% of control)</text>
<text x="392.60" y="460.30" font-size="7.2" font-weight="bold" textLength="26.04" lengthAdjust="spacingAndGlyphs">control</text>
<text x="428.29" y="460.30" font-size="7.2" font-weight="bold" textLength="10.27" lengthAdjust="spacingAndGlyphs">SU</text>
<text x="425.38" y="467.20" font-size="7.2" font-weight="bold" textLength="15.66" lengthAdjust="spacingAndGlyphs">5614</text>
<text x="456.59" y="460.30" font-size="7.2" font-weight="bold" textLength="10.27" lengthAdjust="spacingAndGlyphs">SU</text>
<text x="453.44" y="467.20" font-size="7.2" font-weight="bold" textLength="16.08" lengthAdjust="spacingAndGlyphs">1498</text>
<text x="476.71" y="460.20" font-size="7.2" font-weight="bold" textLength="26.77" lengthAdjust="spacingAndGlyphs">imatinib</text>
<text x="475.65" y="466.80" font-size="7.2" font-weight="bold" textLength="28.87" lengthAdjust="spacingAndGlyphs">mesylate</text>
</svg>
</body></html>
